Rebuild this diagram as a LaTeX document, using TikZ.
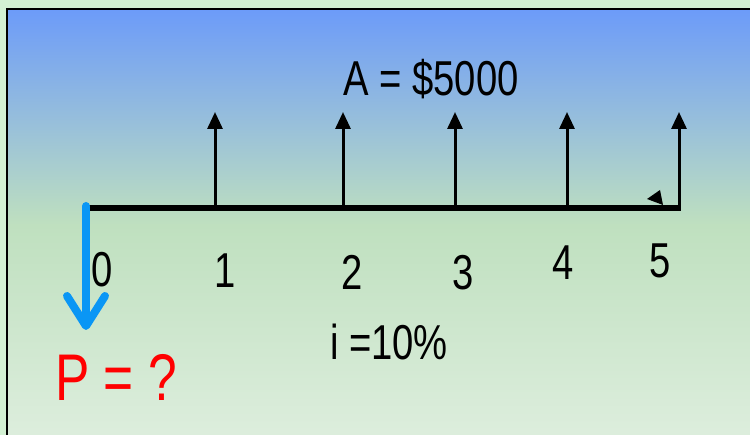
\documentclass[tikz,border=0pt]{standalone}
\usepackage{fontspec}
\setmainfont[FakeStretch=0.78]{Liberation Sans}
\usetikzlibrary{arrows.meta}
\definecolor{outerbg}{HTML}{D3F1D3}
\definecolor{topblue}{HTML}{6C9BF9}
\definecolor{midgreen}{HTML}{BFE0BF}
\definecolor{botgreen}{HTML}{DEEEDE}
\definecolor{pblue}{HTML}{0A96F5}
\definecolor{pred}{HTML}{FF0000}
\begin{document}
\begin{tikzpicture}[x=1pt,y=-1pt,
  lbl/.style={inner sep=0pt, anchor=base, font=\fontsize{49}{55}\selectfont},
  bigred/.style={inner sep=0pt, anchor=base, text=pred, font=\fontsize{66}{72}\selectfont},
  timeline/.style={line width=6pt},
  cashup/.style={line width=3pt, -{Triangle[width=15pt,length=17pt]}},
  cashdown/.style={pblue, line width=8pt, line cap=round, -{Straight Barb[round,width=38pt,length=30pt]}}
]
\useasboundingbox (0,0) rectangle (750,435);
\fill[outerbg] (0,0) rectangle (750,435);
\shade[top color=topblue, bottom color=midgreen] (7,9) rectangle (760,225);
\shade[top color=midgreen, bottom color=botgreen] (7,224.5) rectangle (760,445);
\draw[line width=2.5pt] (7,445) -- (7,9) -- (760,9);

% timeline
\coordinate (t0) at (87,208);
\coordinate (t5) at (681,208);
\draw[timeline] (t0) -- (t5);

% receipts
\coordinate (b1) at (215,208); \coordinate (u1) at (215,112);
\coordinate (b2) at (343,208); \coordinate (u2) at (343,112);
\coordinate (b3) at (455,208); \coordinate (u3) at (455,112);
\coordinate (b4) at (567,208); \coordinate (u4) at (567,112);
\coordinate (b5) at (679,210); \coordinate (u5) at (679,112);
\foreach \k in {1,...,5} { \draw[cashup] (b\k) -- (u\k); }

% stray arrowhead near period 5
\fill (647,199) -- (660,190) -- (663,205) -- cycle;

% payment P
\node[bigred] (P) at (116,401) {P = ?};
\coordinate (pend) at (86,330);
\draw[cashdown] (86,206) -- (pend);

% labels
\node[lbl] (A) at (431,96) {A = \$5000};
\node[lbl] (n0) at (102,287) {0};
\node[lbl] (n1) at (225,288) {1};
\node[lbl] (n2) at (352,290) {2};
\node[lbl] (n3) at (463,290) {3};
\node[lbl] (n4) at (563,280) {4};
\node[lbl] (n5) at (660,278) {5};
\node[lbl] (i) at (389,360) {i =10\%};
\end{tikzpicture}
\end{document}
